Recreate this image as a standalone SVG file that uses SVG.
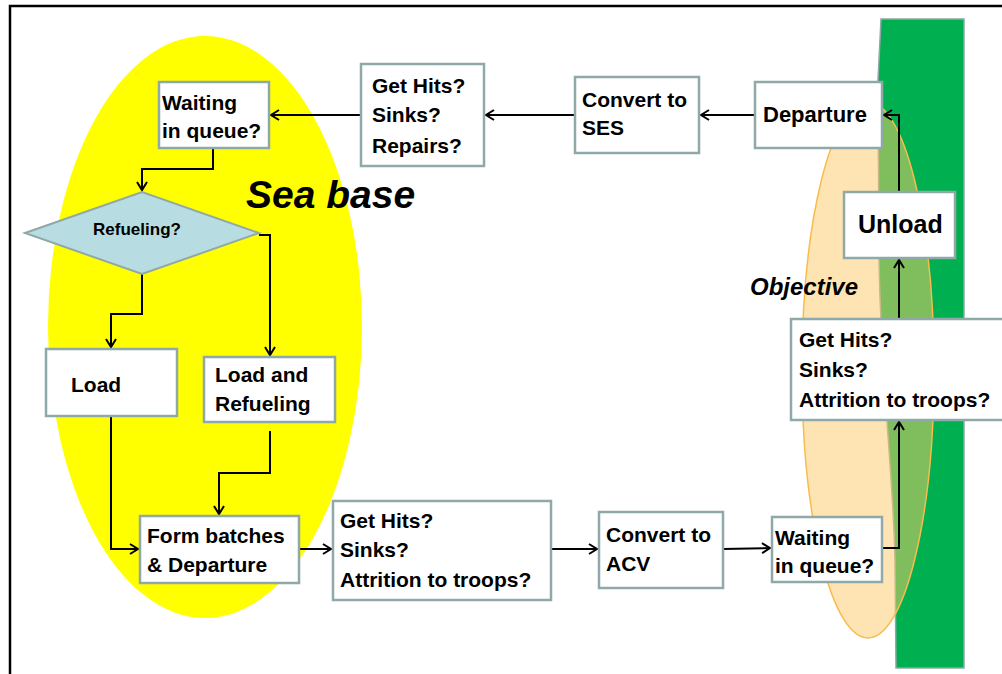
<svg xmlns="http://www.w3.org/2000/svg" width="1002" height="674" viewBox="0 0 1002 674">
<style>
.box{fill:#fff;stroke:#8FA8A8;stroke-width:2.5}
.t{font-family:"Liberation Sans",Arial,sans-serif;font-weight:bold;font-size:21px;fill:#000}
.c{fill:none;stroke:#000;stroke-width:2}
</style>
<defs>
<marker id="ah" markerUnits="userSpaceOnUse" markerWidth="14" markerHeight="14" viewBox="-10 -7 12 14" refX="0" refY="0" orient="auto">
<path d="M-8,-5 L0,0 L-8,5" fill="none" stroke="#000" stroke-width="2"/>
</marker>
</defs>
<rect x="0" y="0" width="1002" height="674" fill="#fff"/>
<path d="M10,674 L10,6 L1002,6" fill="none" stroke="#000" stroke-width="2.5"/>
<g id="background">
<ellipse cx="205" cy="327" rx="157" ry="291" fill="#FFFF00"/>
<path d="M881,19 L964,19 L964,668 L896,668 L895,560 C893,470 881,380 879,260 L878,80 Z" fill="#00B050" stroke="#8FA8A8" stroke-width="1.5"/>
<ellipse cx="868" cy="370" rx="66" ry="268" fill="#FFC967" fill-opacity="0.5" stroke="#F8BC4C" stroke-width="1.5"/>
<text class="t" x="246" y="208" style="font-size:39px;font-style:italic">Sea base</text>
<text class="t" x="750" y="295" style="font-size:24px;font-style:italic">Objective</text>
</g>
<g id="connectors">
<path class="c" d="M755,115 L701,115" marker-end="url(#ah)"/>
<path class="c" d="M575,115 L486,115" marker-end="url(#ah)"/>
<path class="c" d="M361,115 L271,115" marker-end="url(#ah)"/>
<path class="c" d="M213,148 L213,169 L142,169 L142,190" marker-end="url(#ah)"/>
<path class="c" d="M142,274 L142,314 L111,314 L111,347" marker-end="url(#ah)"/>
<path class="c" d="M259,235 L270,235 L270,355" marker-end="url(#ah)"/>
<path class="c" d="M111,416 L111,549 L138,549" marker-end="url(#ah)"/>
<path class="c" d="M270,431 L270,473 L219,473 L219,514" marker-end="url(#ah)"/>
<path class="c" d="M299,549 L331,549" marker-end="url(#ah)"/>
<path class="c" d="M551,549 L597,549" marker-end="url(#ah)"/>
<path class="c" d="M723,549 L770,548" marker-end="url(#ah)"/>
<path class="c" d="M882,548 L899,548 L899,422" marker-end="url(#ah)"/>
<path class="c" d="M899,319 L899,260" marker-end="url(#ah)"/>
<path class="c" d="M899,192 L899,115 L884,115" marker-end="url(#ah)"/>
</g>
<g id="waiting-top">
<rect class="box" x="159" y="82" width="110" height="66"/>
<text class="t" x="162" y="110">Waiting</text>
<text class="t" x="162" y="138">in queue?</text>
</g>
<g id="hits-top">
<rect class="box" x="361" y="64" width="123" height="102"/>
<text class="t" x="372" y="93">Get Hits?</text>
<text class="t" x="372" y="122">Sinks?</text>
<text class="t" x="372" y="153">Repairs?</text>
</g>
<g id="convert-ses">
<rect class="box" x="575" y="77" width="124" height="76"/>
<text class="t" x="582" y="107">Convert to</text>
<text class="t" x="582" y="135">SES</text>
</g>
<g id="departure">
<rect class="box" x="755" y="82" width="127" height="66"/>
<text class="t" x="763" y="122" style="font-size:22px">Departure</text>
</g>
<g id="unload">
<rect class="box" x="844" y="192" width="111" height="66"/>
<text class="t" x="858" y="233" style="font-size:25px">Unload</text>
</g>
<g id="hits-right">
<rect class="box" x="791" y="319" width="220" height="101"/>
<text class="t" x="799" y="347">Get Hits?</text>
<text class="t" x="799" y="377">Sinks?</text>
<text class="t" x="799" y="407">Attrition to troops?</text>
</g>
<g id="refueling">
<polygon points="25,233 142,192 259,233 142,274" fill="#B7DDE2" stroke="#8FA8A8" stroke-width="2"/>
<text class="t" x="137" y="235" text-anchor="middle" style="font-size:17px">Refueling?</text>
</g>
<g id="load">
<rect class="box" x="46" y="349" width="131" height="67"/>
<text class="t" x="71" y="392">Load</text>
</g>
<g id="load-refueling">
<rect class="box" x="204" y="357" width="131" height="65"/>
<text class="t" x="215" y="382">Load and</text>
<text class="t" x="215" y="411">Refueling</text>
</g>
<g id="form-batches">
<rect class="box" x="140" y="516" width="159" height="67"/>
<text class="t" x="147" y="543">Form batches</text>
<text class="t" x="147" y="572">&amp; Departure</text>
</g>
<g id="hits-bottom">
<rect class="box" x="333" y="501" width="218" height="99"/>
<text class="t" x="340" y="528">Get Hits?</text>
<text class="t" x="340" y="557">Sinks?</text>
<text class="t" x="340" y="587">Attrition to troops?</text>
</g>
<g id="convert-acv">
<rect class="box" x="599" y="512" width="124" height="76"/>
<text class="t" x="606" y="542">Convert to</text>
<text class="t" x="606" y="571">ACV</text>
</g>
<g id="waiting-bottom">
<rect class="box" x="772" y="517" width="110" height="65"/>
<text class="t" x="775" y="545">Waiting</text>
<text class="t" x="775" y="573">in queue?</text>
</g>
</svg>
